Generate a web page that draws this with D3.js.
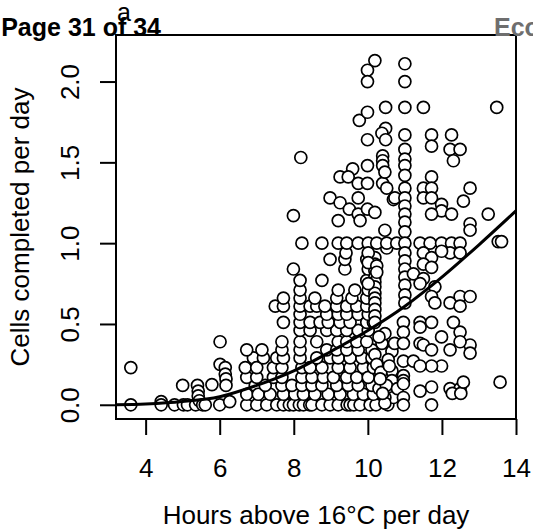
<!DOCTYPE html>
<html>
<head>
<meta charset="utf-8">
<script src="https://cdn.jsdelivr.net/npm/d3@7"></script>
<style>
  body { margin: 0; background: #fff; }
  svg { display: block; font-family: "Liberation Sans", Arial, Helvetica, sans-serif; }
</style>
</head>
<body>
<div id="drawing"></div>
<script>
const width = 533;
const height = 531;
// plot box in page pixels
const box = {left: 116, right: 516, top: 35, bottom: 419};

// observations: [hours above 16°C per day, cells completed per day]
const obsUnder7h = [
  [3.60,0.23],[3.60,0],[4.42,0.02],[4.42,0],[4.78,0],[5.00,0.12],[5.02,0],[5.13,0],
  [5.35,0],[5.40,0.12],[5.42,0.085],[5.42,0.055],[5.45,0.025],[5.54,0],[5.61,0],
  [5.79,0.125],[6.01,0.39],[6.01,0.25],[6.00,0],[6.15,0.23],[6.15,0.19],[6.17,0.16],
  [6.17,0.12],[6.27,0.02],[6.73,0],[6.73,0.065],[6.96,0.12],[6.73,0.17],[6.69,0.23],
  [6.91,0.29],[6.73,0.34]
];
const obs7to10h = [
  [7.00,0],[7.27,0],[7.54,0],[7.72,0],[7.88,0],[7.99,0],[8.15,0],[8.26,0],[8.43,0],
  [8.49,0],[8.76,0],[8.98,0],[9.20,0],[9.44,0],[9.52,0],[9.62,0],[9.79,0],
  [7.04,0.065],[7.36,0.065],[7.72,0.065],[8.03,0.065],[8.26,0.065],[8.57,0.065],
  [8.93,0.065],[9.25,0.065],[9.61,0.065],[9.88,0.065],
  [7.23,0.12],[7.68,0.12],[7.95,0.12],[8.22,0.12],[8.49,0.12],[8.76,0.12],[9.16,0.12],
  [9.47,0.12],[9.74,0.12],
  [7.00,0.17],[7.45,0.17],[7.68,0.17],[8.22,0.17],[8.49,0.17],[8.80,0.17],[9.07,0.17],
  [9.43,0.17],[9.70,0.17],
  [7.00,0.23],[7.45,0.23],[7.68,0.23],[8.22,0.23],[8.44,0.23],[8.76,0.23],[9.20,0.23],
  [9.52,0.23],[9.88,0.23],
  [7.18,0.29],[7.54,0.29],[7.72,0.29],[8.17,0.29],[8.62,0.29],[8.98,0.29],[9.20,0.29],
  [9.52,0.29],[9.84,0.29],
  [7.14,0.34],[7.68,0.34],[8.17,0.34],[8.89,0.34],[9.16,0.34],[9.43,0.34],[9.74,0.34],
  [7.68,0.39],[8.17,0.39],[8.62,0.39],[9.20,0.39],[9.43,0.39],[9.70,0.39],
  [8.17,0.46],[8.44,0.46],[8.89,0.46],[9.16,0.46],[9.43,0.46],[9.74,0.46],
  [7.72,0.51],[8.17,0.51],[8.44,0.51],[8.71,0.51],[8.93,0.51],[9.25,0.51],[9.52,0.51],
  [8.17,0.56],[8.89,0.56],[9.20,0.56],[9.43,0.56],[9.74,0.56],
  [7.50,0.61],[7.72,0.61],[8.17,0.61],[8.44,0.61],[8.62,0.61],[8.84,0.61],[9.16,0.61],
  [9.43,0.61],[9.70,0.61],
  [7.72,0.66],[8.17,0.66],[8.57,0.66],[9.16,0.66],[9.57,0.66],
  [8.17,0.71],[9.20,0.71],[9.65,0.71],[8.17,0.77],[8.76,0.77],[7.99,0.84],[9.38,0.84],
  [8.98,0.90],[9.38,0.90],[9.41,0.94],
  [8.22,1.0],[8.76,1.0],[9.20,1.0],[9.43,1.0],[9.74,1.0],
  [7.99,1.17],[8.19,1.53],[9.77,1.76],[9.59,1.46],[9.25,1.41],[9.47,1.41],[9.74,1.37],
  [8.98,1.28],[9.25,1.25],[9.50,1.21],[9.74,1.28],[9.74,1.18],[9.79,1.14],[9.20,1.14]
];
const obs10to11h = [
  [10.06,0],[10.22,0],[10.54,0],[10.15,0.065],[10.11,0.12],[10.01,0.17],[10.15,0.23],
  [10.11,0.29],[10.11,0.34],[9.97,0.39],[10.01,0.46],[9.97,0.51],[10.15,0.51],
  [10.01,0.56],[9.97,0.61],[9.97,0.66],[10.01,0.71],[9.97,0.77],[10.01,0.84],
  [9.97,0.90],[10.01,1.0],
  [10.19,0.91],[10.19,0.87],[10.19,0.83],[10.19,0.79],[10.19,0.76],[10.19,0.73],
  [10.19,0.69],[10.19,0.66],[10.19,0.63],[10.19,0.59],[10.19,0.55],[10.19,0.51],
  [10.19,2.13],[9.99,2.07],[9.99,2.00],[10.48,1.84],[9.99,1.81],[10.48,1.71],
  [10.38,1.68],[10.48,1.64],[9.99,1.64],[10.40,1.54],[10.40,1.51],[10.40,1.48],
  [9.99,1.48],[9.99,1.37],[10.40,1.37],[10.46,1.44],[9.99,1.21],[10.19,1.19],
  [10.69,1.27],[10.51,1.34],[10.73,1.28],[10.46,1.08],[10.51,0.97],[10.24,1.0],
  [10.51,1.0],[10.78,1.0],[10.01,0.94],[10.01,0.88],[10.24,0.86],[10.24,0.82],
  [10.01,0.75],
  [10.65,0.33],[10.38,0.38],[10.19,0.31],[10.24,0.25],[10.65,0.21],[10.65,0.15],
  [10.69,0.045],[10.46,0.045],[10.46,0.01],[10.46,0.44],
  [10.30,0.10],[10.50,0.12],[10.35,0.20],[10.55,0.28],[10.30,0.42],[10.72,0.38],
  [10.80,0.10],[10.40,0.07],[10.58,0.24],[10.33,0.16]
];
const obsOver11h = [
  [11.0,2.11],[11.0,2.00],[11.0,1.84],[11.0,1.67],[11.0,1.58],[11.0,1.52],[11.0,1.48],
  [11.0,1.42],[11.0,1.34],[11.0,1.28],[11.0,1.23],[11.0,1.18],[11.0,1.13],[11.0,1.07],
  [11.0,1.00],[11.0,0.94],[11.0,0.89],[11.0,0.84],[11.0,0.79],[11.0,0.74],[11.0,0.68],
  [11.0,0.63],[10.96,0.51],[10.96,0.45],[10.96,0.38],[10.96,0.27],[10.96,0.18],
  [10.96,0.15],[10.96,0.13],[10.96,0.045],[10.96,0],
  [11.50,1.84],[13.48,1.84],[11.72,1.67],[11.72,1.60],[12.26,1.67],[12.22,1.58],
  [12.49,1.58],[12.31,1.51],[11.72,1.41],[11.50,1.34],[11.72,1.34],[11.50,1.28],
  [11.72,1.28],[11.99,1.24],[11.99,1.20],[11.72,1.18],[12.26,1.18],[12.76,1.34],
  [12.58,1.26],[13.25,1.18],[12.76,1.12],[12.76,1.08],
  [11.41,1.0],[11.68,1.0],[11.99,1.0],[12.26,1.0],[12.49,1.0],[13.52,1.01],[13.61,1.01],
  [11.50,0.94],[11.72,0.91],[11.50,0.87],[11.72,0.85],[11.23,0.81],[11.50,0.78],
  [11.41,0.75],[11.81,0.73],[11.72,0.67],[11.81,0.63],[12.22,0.94],[12.49,0.94],
  [11.99,0.95],[12.22,0.63],[12.49,0.67],[12.76,0.67],[12.49,0.61],
  [11.41,0.51],[11.41,0.48],[11.72,0.51],[11.99,0.42],[12.31,0.51],[12.49,0.45],
  [12.76,0.37],[12.76,0.32],[11.41,0.38],[11.50,0.37],[11.72,0.34],[12.22,0.34],
  [12.49,0.39],[11.99,0.24],[11.72,0.24],[11.23,0.27],[11.41,0.24],[11.72,0.11],
  [11.41,0.085],[12.22,0.10],[12.49,0.10],[12.28,0.07],[12.51,0.07],[12.58,0.14],
  [11.72,0],[13.57,0.14]
];

// fitted curve
const fitHours = [3.2, 4, 5, 6, 7, 8, 9, 10, 11, 12, 13, 14];
const fitCells = [0.0, 0.005, 0.02, 0.05, 0.12, 0.21, 0.33, 0.46, 0.61, 0.79, 0.99, 1.2];

const xTicks = [4, 6, 8, 10, 12, 14];
const yTicks = [0, 0.5, 1, 1.5, 2];

let drawing;
let xScale;
let yScale;

function setup(){
  drawing = d3.select("#drawing").append("svg")
    .attr("width", width)
    .attr("height", height)
    .style("background", "#ffffff");

  // R style limits: data range padded by 4%
  xScale = d3.scaleLinear().domain([3.2, 14.0]).range([box.left, box.right]);
  yScale = d3.scaleLinear().domain([-0.088, 2.288]).range([box.bottom, box.top]);
}

function make(){
  const observations = obsUnder7h.concat(obs7to10h, obs10to11h, obsOver11h);

  drawing.append("g")
    .selectAll("circle")
    .data(observations)
    .enter()
    .append("circle")
      .attr("cx", (d) => xScale(d[0]))
      .attr("cy", (d) => yScale(d[1]))
      .attr("r", 6)
      .style("fill", "#ffffff")
      .style("stroke", "#000000")
      .style("stroke-width", 1.7);

  const fit = d3.line()
    .x((d, i) => xScale(fitHours[i]))
    .y((d, i) => yScale(fitCells[i]))
    .curve(d3.curveMonotoneX);

  drawing.append("path")
    .datum(fitHours)
    .attr("d", fit)
    .style("fill", "none")
    .style("stroke", "#000000")
    .style("stroke-width", 3);

  // box
  drawing.append("rect")
    .attr("x", box.left)
    .attr("y", box.top)
    .attr("width", box.right - box.left)
    .attr("height", box.bottom - box.top)
    .style("fill", "none")
    .style("stroke", "#000000")
    .style("stroke-width", 2);

  const xAxis = drawing.append("g")
    .attr("transform", `translate(0,${box.bottom})`)
    .call(d3.axisBottom(xScale).tickValues(xTicks).tickSize(16).tickPadding(24)
      .tickFormat(d3.format("d")));

  const yAxis = drawing.append("g")
    .attr("transform", `translate(${box.left},0)`)
    .call(d3.axisLeft(yScale).tickValues(yTicks).tickSize(16)
      .tickFormat(d3.format(".1f")));

  [xAxis, yAxis].forEach((ax) => {
    ax.select(".domain").remove();
    ax.attr("font-family", null).attr("font-size", null);
    ax.selectAll(".tick line").style("stroke", "#000000").style("stroke-width", 2);
    ax.selectAll(".tick text").style("fill", "#000000").style("font-size", "26px");
  });

  // rotated y tick labels, like R's default las = 0
  yAxis.selectAll(".tick text")
    .attr("transform", "rotate(-90)")
    .attr("text-anchor", "middle")
    .attr("x", 0)
    .attr("y", -37)
    .attr("dy", 0);

  drawing.append("text")
    .attr("x", (box.left + box.right) / 2)
    .attr("y", 524)
    .attr("text-anchor", "middle")
    .style("font-size", "26px")
    .text("Hours above 16°C per day");

  drawing.append("text")
    .attr("transform", "rotate(-90)")
    .attr("x", -(box.top + box.bottom) / 2)
    .attr("y", 29)
    .attr("text-anchor", "middle")
    .style("font-size", "26px")
    .text("Cells completed per day");

  // panel letter and page header bits
  drawing.append("text")
    .attr("x", 124)
    .attr("y", 21)
    .attr("text-anchor", "middle")
    .style("font-size", "25px")
    .text("a");

  drawing.append("text")
    .attr("x", 161)
    .attr("y", 36)
    .attr("text-anchor", "end")
    .style("font-size", "25px")
    .style("font-weight", "bold")
    .text("Page 31 of 34");

  drawing.append("text")
    .attr("x", 494)
    .attr("y", 36)
    .style("font-size", "25px")
    .style("font-weight", "bold")
    .style("fill", "#6e6e6e")
    .text("Eco");
}

setup();
make();
</script>
</body>
</html>
